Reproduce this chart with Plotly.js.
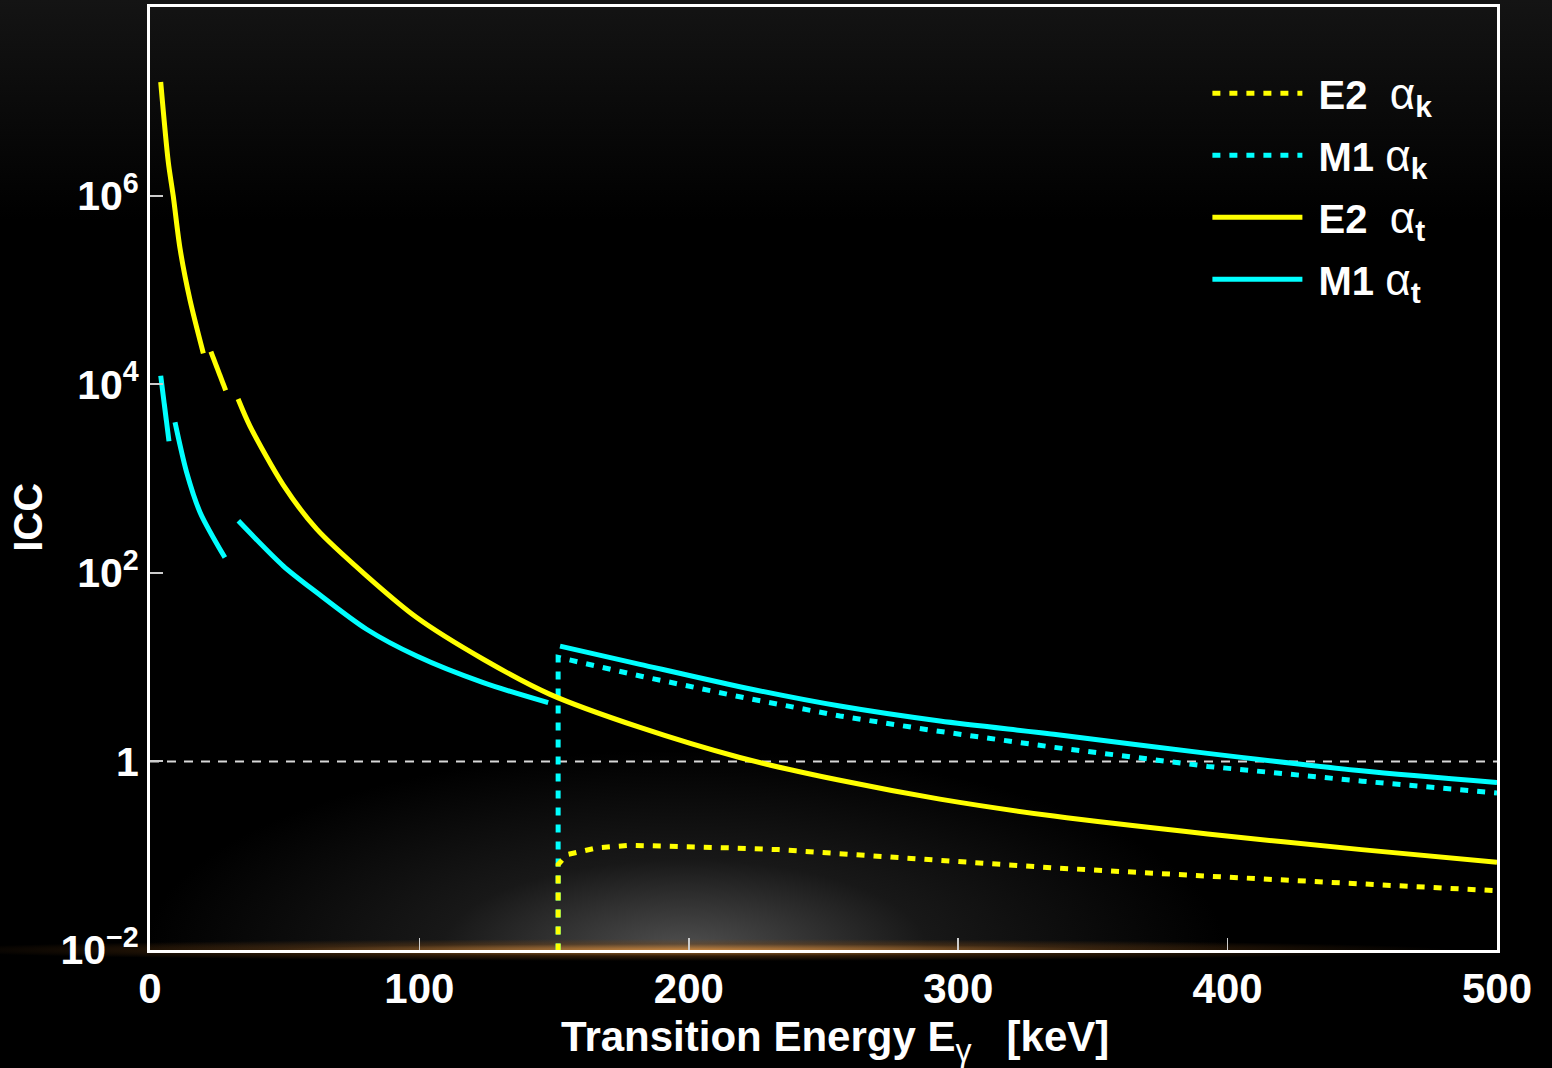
<!DOCTYPE html>
<html>
<head>
<meta charset="utf-8">
<script src="https://cdn.plot.ly/plotly-3.0.1.min.js"></script>
<style>
  html, body { margin: 0; padding: 0; background: #000; }
  #wrap { position: relative; width: 1552px; height: 1068px; overflow: hidden;
          background: linear-gradient(to bottom, #141414 0px, #0a0a0a 110px, #000 220px); }
  #glow { position: absolute; left: 150px; top: 7px; width: 1347px; height: 943px;
          background: radial-gradient(ellipse 540px 200px at 535px 943px, rgba(80,80,80,1) 0%, rgba(40,40,40,0.6) 45%, rgba(0,0,0,0) 100%); }
  #line-glow { position: absolute; left: 0; top: 938px; width: 1552px; height: 24px;
          background: radial-gradient(ellipse 760px 11px at 690px 50%, rgba(215,140,60,0.85) 0%, rgba(120,70,20,0.4) 55%, rgba(0,0,0,0) 100%); }
  #chart { position: absolute; left: 0; top: 0; width: 1552px; height: 1068px; }
</style>
</head>
<body>
<div id="wrap">
  <div id="glow"></div>
  <div id="line-glow"></div>
  <div id="chart"></div>
</div>
<script>
// ---- data ----
// E2 total conversion coefficient (null = gap at atomic shell edges)
const e2TotE = [3.97, 6.79, 8.65, 11.14, 14.85, 19.8, null, 22.6, 28.1, null,
                32.7, 37.1, 49.5, 61.9, 80.4, 99.0, 123.7, 148.5, 181.9,
                218.9, 256.1, 293.2, 335.5, 392.6, 449.7, 500];
const e2TotV = [1.6e7, 2.27e6, 9.8e5, 2.75e5, 7.8e4, 2.12e4, null, 2.21e4, 8.6e3, null,
                6.97e3, 3.6e3, 851, 290, 92.7, 33.5, 12.1, 5.14, 2.29,
                1.10, 0.63, 0.398, 0.263, 0.17, 0.116, 0.0851];

// M1 total conversion coefficient
const m1TotE = [3.97, 7.05, null, 9.28, 13.6, 18.6, 27.8, null,
                32.8, 49.5, 61.9, 80.4, 99.0, 123.7, 147.8, null,
                152.2, 181.9, 218.9, 256.1, 293.2, 335.5, 392.6, 449.7, 500];
const m1TotV = [1.23e4, 2.48e3, null, 3.94e3, 1.16e3, 437, 145, null,
                356, 118, 61.8, 25.2, 13.1, 6.84, 4.2, null,
                16.7, 10.7, 6.2, 3.86, 2.68, 1.94, 1.216, 0.794, 0.596];

// K-shell coefficients (zero below the K edge, drawn off-scale)
const e2KE = [151.5, 151.5, 154.9, 165.8, 178.2, 196.7, 215.3, 233.2, 281.3, 335.5, 392.6, 449.7, 500];
const e2KV = [1e-4, 0.0807, 0.103, 0.121, 0.129, 0.126, 0.121, 0.116, 0.095, 0.0743, 0.0607, 0.0507, 0.0425];

const m1KE = [151.5, 151.5, 181.9, 218.9, 256.1, 289.5, 335.6, 392.7, 449.9, 500];
const m1KV = [1e-4, 12.7, 8.05, 4.84, 3.03, 2.15, 1.41, 0.885, 0.617, 0.462];

// reference line ICC = 1
const refE = [0, 500];
const refV = [1, 1];

// axis ticks
const xTickVals = [0, 100, 200, 300, 400, 500];
const yTickVals = [0.01, 1, 100, 1e4, 1e6];
const yTickText = ['10<sup>−2</sup>', '1', '10<sup>2</sup>', '10<sup>4</sup>', '10<sup>6</sup>'];

// ---- styles ----
const YEL = '#ffff00';
const CYN = '#00ffff';
const DOT = '8px,9px';
const ALPHA = '<span style="font-size:44px">α</span>';
const SUB = (s) => '<sub><span style="font-size:30px;font-weight:bold">' + s + '</span></sub>';

const traces = [
  { x: refE, y: refV, mode: 'lines', showlegend: false, hoverinfo: 'skip',
    line: { color: '#d8d8d8', width: 2, dash: '9px,8px' } },
  { name: '&nbsp;<b>M1</b>&nbsp;' + ALPHA + SUB('k'), x: m1KE, y: m1KV, mode: 'lines',
    line: { color: CYN, width: 5, dash: DOT }, legendrank: 2, legendgroup: 'b' },
  { name: '&nbsp;<b>E2</b>&nbsp;&nbsp;' + ALPHA + SUB('k'), x: e2KE, y: e2KV, mode: 'lines',
    line: { color: YEL, width: 5, dash: DOT }, legendrank: 1, legendgroup: 'a' },
  { name: '&nbsp;<b>M1</b>&nbsp;' + ALPHA + SUB('t'), x: m1TotE, y: m1TotV, mode: 'lines', connectgaps: false,
    line: { color: CYN, width: 5, shape: 'spline', smoothing: 0.8 }, legendrank: 4, legendgroup: 'd' },
  { name: '&nbsp;<b>E2</b>&nbsp;&nbsp;' + ALPHA + SUB('t'), x: e2TotE, y: e2TotV, mode: 'lines', connectgaps: false,
    line: { color: YEL, width: 5, shape: 'spline', smoothing: 0.8 }, legendrank: 3, legendgroup: 'c' }
];

const FONT = 'Liberation Sans, Arial, Helvetica, sans-serif';

const layout = {
  width: 1552, height: 1068,
  margin: { l: 150, r: 55, t: 7, b: 118 },
  paper_bgcolor: 'rgba(0,0,0,0)',
  plot_bgcolor: 'rgba(0,0,0,0)',
  font: { family: FONT, color: '#ffffff', size: 40 },
  xaxis: {
    range: [0, 500], tickvals: xTickVals, ticktext: xTickVals.map(String),
    ticks: 'inside', ticklen: 12, tickwidth: 1.5, tickcolor: '#cccccc',
    showline: true, linecolor: '#ffffff', linewidth: 3, mirror: true,
    showgrid: false, zeroline: false,
    tickfont: { family: FONT, size: 42, color: '#ffffff', weight: 'bold' },
    title: { text: '&nbsp;&nbsp;<b>Transition Energy E</b><span style="font-size:46px"><sub>γ</sub></span>&nbsp;&nbsp;&nbsp;<b>[keV]</b>',
             font: { family: FONT, size: 42, color: '#ffffff' }, standoff: 14 }
  },
  yaxis: {
    type: 'log', range: [-2, 8], tickvals: yTickVals, ticktext: yTickText,
    ticks: 'inside', ticklen: 13, tickwidth: 2, tickcolor: '#cccccc',
    showline: true, linecolor: '#ffffff', linewidth: 3, mirror: true,
    showgrid: false, zeroline: false,
    tickfont: { family: FONT, size: 41, color: '#ffffff', weight: 'bold' },
    title: { text: '<b>ICC</b>&nbsp;&nbsp;&nbsp;&nbsp;&nbsp;&nbsp;&nbsp;',
             font: { family: FONT, size: 40, color: '#ffffff' }, standoff: 6 }
  },
  legend: {
    x: 0.785, y: 0.943, xanchor: 'left', yanchor: 'top',
    bgcolor: 'rgba(0,0,0,0)', borderwidth: 0,
    font: { family: FONT, size: 40, color: '#ffffff' },
    itemwidth: 90, tracegroupgap: 7, traceorder: 'grouped'
  },
  showlegend: true
};

Plotly.newPlot('chart', traces, layout, { displayModeBar: false, staticPlot: true });
</script>
</body>
</html>
